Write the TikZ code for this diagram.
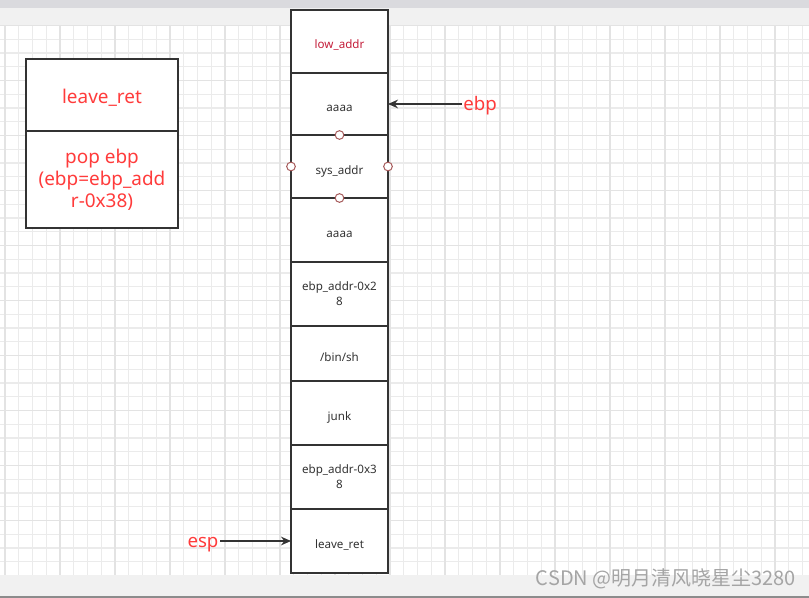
\documentclass[tikz,border=0pt]{standalone}
\usepackage{fontspec}
\setmainfont{Noto Sans}
\newfontfamily\cjkfont{Noto Sans CJK SC}
\usepackage{xcolor}
\usepackage{tikz}
\usetikzlibrary{arrows.meta,positioning}
\definecolor{stackline}{HTML}{333333}
\definecolor{labelred}{HTML}{FF3B3B}
\definecolor{addrred}{HTML}{C41E3A}
\definecolor{gridminor}{HTML}{EBEBEB}
\definecolor{gridmajor}{HTML}{E3E3E3}
\definecolor{bandgray}{HTML}{F1F1F1}
\definecolor{topgray}{HTML}{DADADE}
\definecolor{portred}{HTML}{A65A5A}
\definecolor{markgray}{HTML}{A5A5A5}

\begin{document}
\begin{tikzpicture}[x=0.75pt,y=-0.75pt,>={Stealth[length=7.5pt,width=6.5pt]},
  cell/.style={draw=stackline,line width=1.5pt,fill=white,minimum width=72.75pt,
    outer sep=0pt,inner sep=1pt,align=center,text=stackline,
    font=\fontsize{8.7}{11.25}\selectfont},
  oneline/.style={text height=2.3ex,text depth=0.2ex},
  gadget/.style={draw=stackline,line width=1.5pt,fill=white,minimum width=114pt,
    outer sep=0pt,inner sep=1pt,align=center,text=labelred,
    font=\fontsize{14.2}{16.5}\selectfont},
  reglbl/.style={text=labelred,inner sep=1pt,font=\fontsize{14}{16}\selectfont,
    text height=2ex,text depth=0.2ex},
  port/.style={circle,draw=portred,line width=0.75pt,fill=white,inner sep=0pt,
    minimum size=6.5pt},
  ptr/.style={->,draw=stackline,line width=1.25pt}]
  \useasboundingbox (0,0) rectangle (809,598);
  % background and grid
  \fill[white] (0,0) rectangle (809,598);
  \fill[topgray] (0,0) rectangle (809,8);
  \fill[bandgray] (0,8) rectangle (809,25.5);
  \foreach \gx in {5,18.75,...,809}
    \draw[gridminor,line width=0.8pt] (\gx,25.5) -- (\gx,575);
  \foreach \gy in {25.5,39.25,...,576}
    \draw[gridminor,line width=0.8pt] (0,\gy) -- (809,\gy);
  \foreach \gx in {5,60,...,809}
    \draw[gridmajor,line width=1pt] (\gx,25.5) -- (\gx,575);
  \foreach \gy in {25.5,80.5,...,576}
    \draw[gridmajor,line width=1pt] (0,\gy) -- (809,\gy);
  \fill[bandgray] (0,575) rectangle (809,596);
  \fill[black!45] (0,596) rectangle (809,598);

  % stack
  \node[cell,oneline,minimum height=47.25pt,text=addrred] (lowaddr) at (339.5,41.5) {low\_addr};
  \node[cell,oneline,minimum height=46.5pt,below=0pt of lowaddr] (ebpslot) {aaaa};
  \node[cell,oneline,minimum height=47.25pt,below=0pt of ebpslot] (sysaddr) {sys\_addr};
  \node[cell,oneline,minimum height=48pt,below=0pt of sysaddr] (aaaa) {aaaa};
  \node[cell,minimum height=48pt,below=0pt of aaaa] (off28) {ebp\_addr-0x2\\8};
  \node[cell,oneline,minimum height=41.25pt,below=0pt of off28] (binsh) {/bin/sh};
  \node[cell,oneline,minimum height=48pt,below=0pt of binsh] (junk) {junk};
  \node[cell,minimum height=48pt,below=0pt of junk] (off38) {ebp\_addr-0x3\\8};
  \node[cell,oneline,minimum height=48pt,below=0pt of off38] (leaveret) {leave\_ret};
  \foreach \a in {north,south,west,east}
    \node[port] (port-\a) at (sysaddr.\a) {};

  % gadget
  \node[gadget,minimum height=54pt,text height=2.4ex,text depth=0ex] (leavebox) at (102,95) {leave\_ret};
  \node[gadget,minimum height=72.75pt,below=0pt of leavebox] (popbox) {pop ebp\\(ebp=ebp\_add\\r-0x38)};

  % registers
  \node[reglbl] (ebplbl) at (480,104) {ebp};
  \node[reglbl] (esplbl) at (203,541) {esp};
  \draw[ptr] (ebplbl) -- (ebpslot);
  \draw[ptr] (esplbl) -- (leaveret);

  \node[text=markgray,font=\cjkfont\fontsize{15}{17}\selectfont] (mark) at (666,579) {CSDN @明月清风晓星尘3280};
\end{tikzpicture}
\end{document}
